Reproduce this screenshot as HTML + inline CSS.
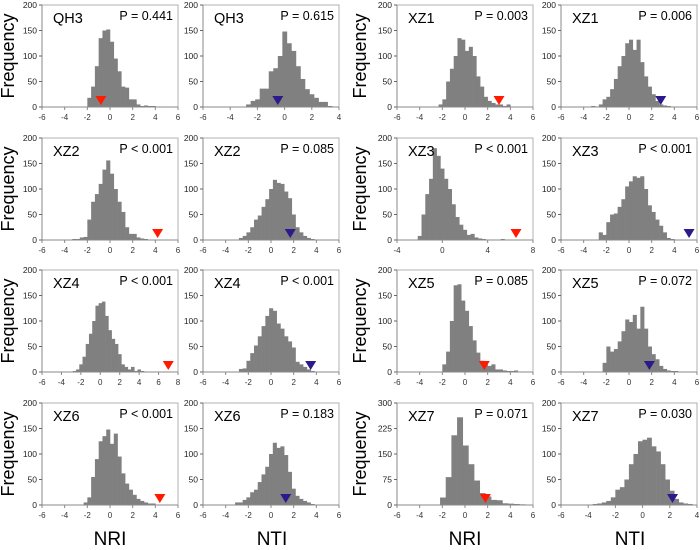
<!DOCTYPE html>
<html><head><meta charset="utf-8">
<style>
html,body{margin:0;padding:0;background:#fff;}
svg{display:block;font-family:"Liberation Sans",Arial,sans-serif;}
</style></head>
<body>
<svg id="fig" width="700" height="550" viewBox="0 0 700 550">
<text x="14" y="56" font-size="18" text-anchor="middle" transform="rotate(-90 14 56)">Frequency</text>
<text x="14" y="189" font-size="18" text-anchor="middle" transform="rotate(-90 14 189)">Frequency</text>
<text x="14" y="321" font-size="18" text-anchor="middle" transform="rotate(-90 14 321)">Frequency</text>
<text x="14" y="454" font-size="18" text-anchor="middle" transform="rotate(-90 14 454)">Frequency</text>
<text x="366" y="56" font-size="18" text-anchor="middle" transform="rotate(-90 366 56)">Frequency</text>
<text x="366" y="189" font-size="18" text-anchor="middle" transform="rotate(-90 366 189)">Frequency</text>
<text x="366" y="321" font-size="18" text-anchor="middle" transform="rotate(-90 366 321)">Frequency</text>
<text x="366" y="454" font-size="18" text-anchor="middle" transform="rotate(-90 366 454)">Frequency</text>
<text x="110" y="545" font-size="19" text-anchor="middle">NRI</text>
<text x="272" y="545" font-size="19" text-anchor="middle">NTI</text>
<text x="465" y="545" font-size="19" text-anchor="middle">NRI</text>
<text x="630" y="545" font-size="19" text-anchor="middle">NTI</text>
</svg>
<script>
// ---- data ----
const qh3NriCounts = [18,40,80,135,150,152,128,95,70,40,38,15,15,5,2,3,2,2,1,1];
const qh3NtiCounts = [5,12,15,36,36,70,76,100,148,125,110,80,55,35,25,18,10,10,2];
const xz1NriCounts = [5,15,50,75,100,135,132,110,118,100,60,40,20,12,8,5,5,2,5];
const xz1NtiCounts = [2,1,5,15,20,35,55,80,100,125,132,112,132,88,60,40,25,12,5,3,2];
const xz2NriCounts = [2,2,5,6,40,75,90,110,138,156,130,100,75,55,25,12,12,5,3,2];
const xz2NtiCounts = [4,8,15,25,40,48,65,80,100,118,112,110,95,82,50,25,15,8,4,2];
const xz3NriCounts = [8,50,90,120,180,165,140,120,100,70,45,30,20,10,12,5,3,2,1,1,1,1,2];
const xz3NtiCounts = [15,10,35,50,52,65,80,105,115,125,122,125,100,68,55,40,28,15,4,2];
const xz4NriCounts = [2,5,15,30,55,75,100,130,135,138,110,82,65,55,35,15,10,5,10,2,5,2,1];
const xz4NtiCounts = [6,7,22,37,52,70,90,110,125,120,95,85,70,60,48,20,15,10,5,2];
const xz5NriCounts = [15,40,100,170,172,140,120,90,62,38,22,15,12,15,5,5,3,2,2,3];
const xz5NtiCounts = [18,50,40,45,60,80,103,98,112,85,128,85,50,35,25,12,6,3,2,2];
const xz6NriCounts = [5,15,55,90,125,135,148,120,140,95,62,42,30,20,12,8,5,3,3,1];
const xz6NtiCounts = [5,5,10,15,25,30,45,60,75,100,122,112,115,98,65,32,18,12,8,5,2];
const xz7NriCounts = [22,82,205,258,175,120,72,35,25,15,14,5,4,3,2];
const xz7NtiCounts = [2,3,5,8,15,30,35,50,80,100,125,128,132,115,105,80,50,28,12,5,3,2];

const siteLabels = ["QH3","QH3","XZ1","XZ1","XZ2","XZ2","XZ3","XZ3","XZ4","XZ4","XZ5","XZ5","XZ6","XZ6","XZ7","XZ7"];
const pLabels = ["P = 0.441","P = 0.615","P = 0.003","P = 0.006","P < 0.001","P = 0.085","P < 0.001","P < 0.001","P < 0.001","P < 0.001","P = 0.085","P = 0.072","P < 0.001","P = 0.183","P = 0.071","P = 0.030"];
const binStarts = [-2,-2.83,-2.33,-3.33,-3.33,-2.83,-2.17,-2.67,-2.83,-2.83,-2,-2.33,-2.33,-3.17,-2.2,-3.67];
const binWidths = [0.333,0.333,0.333,0.333,0.333,0.333,0.333,0.333,0.333,0.333,0.333,0.333,0.333,0.333,0.5,0.333];
const observedValues = [-0.8,-0.5,3,2.8,4.2,1.7,6.5,5.3,7,3.5,1.7,1.8,4.4,1.3,1.8,2.2];
const xMins = [-6,-6,-6,-6,-6,-6,-4,-6,-6,-6,-6,-6,-6,-6,-6,-6];
const xMaxs = [6,4,6,6,6,6,8,6,8,6,6,6,6,6,6,4];
const xSteps = [2,2,2,2,2,2,4,2,2,2,2,2,2,2,2,2];
const yMaxs = [200,200,200,200,200,200,200,200,200,200,200,200,200,200,300,200];
const yTickCounts = [0,1,2,3,4];
const countsList = [qh3NriCounts,qh3NtiCounts,xz1NriCounts,xz1NtiCounts,xz2NriCounts,xz2NtiCounts,xz3NriCounts,xz3NtiCounts,xz4NriCounts,xz4NtiCounts,xz5NriCounts,xz5NtiCounts,xz6NriCounts,xz6NtiCounts,xz7NriCounts,xz7NtiCounts];

// ---- layout ----
const colLeft = [42,203,397,561];
const plotW = 136;
const rowTop = [5,138,270,403];
const plotH = 102;
const NS = "http://www.w3.org/2000/svg";
const svg = document.getElementById("fig");
function mk(tag, attrs, parent){
  const e = document.createElementNS(NS, tag);
  for (const k in attrs) e.setAttribute(k, attrs[k]);
  (parent||svg).appendChild(e);
  return e;
}
for (let i=0;i<16;i++){
  const r = Math.floor(i/4), c = i%4;
  const L = colLeft[c], T = rowTop[r], B = T+plotH, R = L+plotW;
  const xmin = xMins[i], xmax = xMaxs[i], ymax = yMaxs[i];
  const xs = v => L + (v-xmin)/(xmax-xmin)*plotW;
  const ys = v => B - v/ymax*plotH;
  const g = mk("g", {});
  
  
  const frame = mk("rect", {x:L,y:T,width:plotW,height:plotH,fill:"none",stroke:"#b0b0b0","stroke-width":1}, g);
  
  
  const counts = countsList[i];
  for (let k=0;k<counts.length;k++){
    const x0 = xs(binStarts[i]+k*binWidths[i]);
    const x1 = xs(binStarts[i]+(k+1)*binWidths[i]);
    const bar = mk("rect", {x:x0,y:ys(counts[k]),width:x1-x0+0.3,height:B-ys(counts[k]),fill:"#808080"}, g);
    
    
  }
  mk("line",{x1:L,y1:T,x2:L,y2:B,stroke:"#888","stroke-width":1},g);
  mk("line",{x1:L,y1:B,x2:R,y2:B,stroke:"#888","stroke-width":1},g);
  yTickCounts.forEach(function(k){
    const val = ymax*k/4;
    const yy = ys(val);
    mk("line",{x1:L-3,y1:yy,x2:L,y2:yy,stroke:"#666"},g);
    const t = mk("text",{x:L-5,y:yy+3,"font-size":8.5,"text-anchor":"end",fill:"#222"},g);
    t.textContent = val.toFixed(0);
    
    
  });
  for (let v=xmin; v<=xmax+1e-9; v+=xSteps[i]){
    mk("line",{x1:xs(v),y1:B,x2:xs(v),y2:B+3,stroke:"#888"},g);
    const t = mk("text",{x:xs(v),y:B+13,"font-size":8,"text-anchor":"middle",fill:"#333"},g);
    t.textContent = v;
    
    
  }
  const mx = xs(observedValues[i]);
  const tri = mk("polygon",{points:`${mx-5.5},${B-11} ${mx+5.5},${B-11} ${mx},${B-2}`,fill:(c%2===0?"#ff1a00":"#2a1a8a")},g);
  
  
  const sl = mk("text",{x:L+11,y:T+18,"font-size":14.5},g);
  sl.textContent = siteLabels[i];
  
  
  const pl = mk("text",{x:R-5,y:T+15,"font-size":12.5,"text-anchor":"end"},g);
  pl.textContent = pLabels[i];
  
  
}
</script>
</body></html>
